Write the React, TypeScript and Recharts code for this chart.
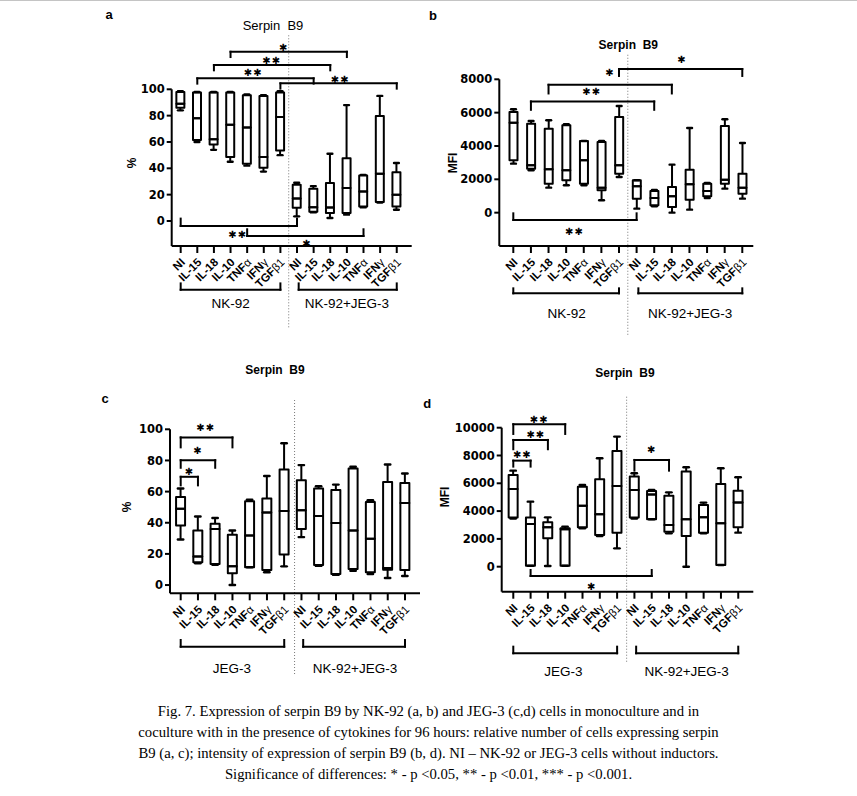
import React from 'react';
import { ComposedChart, Bar, XAxis, YAxis, ReferenceLine, ReferenceDot } from 'recharts';

// ---------- categories / ticks ----------
const categories = ['NI', 'IL-15', 'IL-18', 'IL-10', 'TNFα', 'IFNγ', 'TGFβ1'];
const xPositions = [1, 2, 3, 4, 5, 6, 7, 8, 9, 10, 11, 12, 13, 14];
const pctTicks = [0, 20, 40, 60, 80, 100];
const mfiTicksB = [0, 2000, 4000, 6000, 8000];
const mfiTicksD = [0, 2000, 4000, 6000, 8000, 10000];

// ---------- panel a (% NK-92) ----------
const aMin = [84, 60, 54, 45, 42, 37.5, 50, 3.5, 6.5, 2.3, 4.8, 10.3, 14, 8.5];
const aQ1 = [86, 61.5, 58, 48.5, 43.5, 40.5, 53.5, 10, 7, 6, 6, 11, 14.4, 11];
const aMed = [89, 78, 62, 73, 71, 48.5, 79, 17, 10.5, 10.3, 25, 22.4, 35.8, 20];
const aQ3 = [98, 97.5, 97.5, 97.5, 95.5, 95, 97.5, 27.5, 24.5, 28.8, 47.7, 34.5, 79.8, 37];
const aMax = [98.5, 98, 98, 98, 96, 95.5, 98.5, 29, 26.5, 51, 88, 35, 95, 44];

// ---------- panel b (MFI NK-92) ----------
const bMin = [2940, 2540, 1500, 1640, 1640, 740, 2140, 240, 380, 0, 180, 880, 1440, 840];
const bQ1 = [3140, 2640, 1740, 1940, 1740, 1340, 2340, 840, 440, 340, 780, 980, 1740, 1140];
const bMed = [5400, 2840, 2600, 2540, 3140, 1500, 2840, 1580, 880, 980, 1700, 1300, 1980, 1500];
const bQ3 = [6040, 5340, 5040, 5240, 4300, 4240, 5740, 1940, 1300, 1540, 2580, 1740, 5200, 2340];
const bMax = [6200, 5500, 5540, 5300, 4300, 4300, 6400, 1940, 1360, 2880, 5080, 1780, 5600, 4180];

// ---------- panel c (% JEG-3) ----------
const cMin = [29.2, 14, 13, 0, 11.4, 8.2, 12, 30.8, 12.3, 6.5, 9.2, 7.1, 4.5, 5.8];
const cQ1 = [38.3, 14.6, 13.5, 7.5, 11.4, 9.7, 19.6, 36, 12.9, 7.1, 10.3, 8.2, 9.9, 9.7];
const cMed = [49, 18.3, 36, 12, 31.8, 46.5, 47.5, 48, 44.3, 39.8, 35, 29.7, 11, 52.7];
const cQ3 = [56.6, 35, 39.4, 32.3, 53.8, 55.5, 74.2, 67.3, 62, 61, 74.8, 53.3, 66.2, 65.6];
const cMax = [62, 44, 43, 35, 54.8, 70, 91, 77, 63.4, 64.5, 76, 54.4, 77.4, 71.6];

// ---------- panel d (MFI JEG-3) ----------
const dMin = [3460, 70, 50, 70, 2760, 2210, 1320, 3460, 3410, 2400, 0, 2400, 120, 2450];
const dQ1 = [3530, 70, 2040, 70, 2830, 2280, 2450, 3530, 3410, 2520, 2210, 2450, 120, 2830];
const dMed = [5590, 3070, 2830, 2700, 4390, 3770, 5810, 5520, 5200, 3000, 3410, 3550, 3120, 4610];
const dQ3 = [6600, 3530, 3190, 2760, 5760, 6290, 8330, 6480, 5450, 5110, 6840, 4440, 5950, 5470];
const dMax = [6910, 4680, 3550, 2880, 5880, 7800, 9360, 6720, 5520, 5350, 7150, 4610, 7080, 6430];

// ---------- significance brackets (x1, x2, level, end level) ----------
const aBrackets = [
  [4, 11, 128.5, 124.5], [3, 10, 118.4, 114.4], [2, 9, 108.3, 104.3], [7, 14, 104.5, 100.5],
  [1, 8, -3.8, 1.8], [5, 12, -11.4, -6.3],
];
const aStars: [number, number, string][] = [
  [7.2, 131.8, '*'], [6.48, 121.6, '**'], [5.36, 112.6, '**'], [10.6, 107.7, '**'], [4.43, -10.1, '**'], [8.6, -17, '*'],
];
const bBrackets = [
  [7, 14, 8613, 8200], [3, 10, 7670, 7150], [2, 9, 6670, 6170], [1, 8, -440, -40],
];
const bStars: [number, number, string][] = [
  [6.49, 8408, '*'], [10.57, 9170, '*'], [5.45, 7267, '**'], [4.47, -1141, '**'],
];
const cBrackets = [
  [1, 4, 94.8, 88.4], [1, 3, 80.2, 75.3], [1, 2, 69.5, 64],
];
const cStars: [number, number, string][] = [
  [2.45, 101, '**'], [2, 86.7, '*'], [1.5, 73, '*'],
];
const dBrackets = [
  [1, 4, 10250, 9550], [1, 3, 9120, 8450], [1, 2, 7630, 7200], [8, 10, 7680, 6910], [2, 9, -670, -240],
];
const dStars: [number, number, string][] = [
  [2.5, 10600, '**'], [2.3, 9550, '**'], [1.52, 8040, '**'], [9, 8400, '*'], [5.53, -1440, '*'],
];

// ---------- group labels ----------
const groupsTop = ['NK-92', 'NK-92+JEG-3'];
const groupsBottom = ['JEG-3', 'NK-92+JEG-3'];

const SANS = '"Liberation Sans", Arial, Helvetica, sans-serif';
const WIDE = '"DejaVu Sans", "Liberation Sans", sans-serif';
const STAR_FONT = '"DejaVu Sans", sans-serif';

function buildRows(min: number[], q1: number[], med: number[], q3: number[], max: number[]) {
  return xPositions.map((x, i) => ({
    x,
    base: min[i],
    wLow: q1[i] - min[i],
    boxLow: med[i] - q1[i],
    boxHigh: q3[i] - med[i],
    wHigh: max[i] - q3[i],
  }));
}

const EmptyShape = () => <g />;

const WhiskerLow = (p: any) => {
  const { x, y, width, height } = p;
  const cx = x + width / 2;
  const top = Math.min(y, y + height);
  const bot = Math.max(y, y + height);
  const cw = width * 0.6;
  return (
    <g>
      <line x1={cx} x2={cx} y1={top} y2={bot} stroke="#000" strokeWidth={2} />
      <line x1={cx - cw / 2} x2={cx + cw / 2} y1={bot} y2={bot} stroke="#000" strokeWidth={2.4} strokeLinecap="round" />
    </g>
  );
};

const WhiskerHigh = (p: any) => {
  const { x, y, width, height } = p;
  const cx = x + width / 2;
  const top = Math.min(y, y + height);
  const bot = Math.max(y, y + height);
  const cw = width * 0.6;
  return (
    <g>
      <line x1={cx} x2={cx} y1={top} y2={bot} stroke="#000" strokeWidth={2} />
      <line x1={cx - cw / 2} x2={cx + cw / 2} y1={top} y2={top} stroke="#000" strokeWidth={2.4} strokeLinecap="round" />
    </g>
  );
};

const BoxShape = (p: any) => {
  const { x, y, width, height } = p;
  const top = Math.min(y, y + height);
  const h = Math.abs(height);
  return <rect x={x} y={top} width={width} height={h} fill="none" stroke="#000" strokeWidth={2} strokeLinejoin="round" />;
};

function CategoryTick(props: any) {
  const { x, y, payload } = props;
  const i = xPositions.indexOf(payload.value);
  const name = categories[(i < 0 ? 0 : i) % categories.length];
  const g = name.search(/[αβγ]/);
  const head = g < 0 ? name : name.slice(0, g);
  const tail = g < 0 ? '' : name.slice(g);
  const ax = x + 5;
  const ay = y + 8;
  return (
    <text x={ax} y={ay} transform={`rotate(-45 ${ax} ${ay})`} textAnchor="end" fontSize={11.5} fontWeight="bold" fontFamily={SANS} fill="#000">
      {head}
      {tail ? <tspan fontWeight="normal">{tail}</tspan> : null}
    </text>
  );
}

type Cfg = {
  left: number; top: number; width: number; height: number;
  mTop: number; mRight: number; yW: number; xH: number;
  xDomain: [number, number]; yDomain: [number, number]; yTicks: number[];
  barSize: number;
  sepX: number; sepTop: number; sepBottom: number;
  gTop: number; gBottom: number; gLabelY: number; gLabelX: [number, number];
  gRanges: [number, number][];
  groups: string[];
};

const axisStyle = { stroke: '#000', strokeWidth: 2 };

function Panel({ cfg, data, brackets, stars }: { cfg: Cfg; data: any[]; brackets: number[][]; stars: [number, number, string][] }) {
  const refs: any[] = [];
  refs.push(
    <ReferenceLine key="sep" segment={[{ x: cfg.sepX, y: cfg.sepTop }, { x: cfg.sepX, y: cfg.sepBottom }]} stroke="#777" strokeWidth={1} strokeDasharray="1 2" ifOverflow="visible" />
  );
  brackets.forEach((b, i) => {
    const [x1, x2, lv, end] = b;
    refs.push(
      <ReferenceLine key={`bh${i}`} segment={[{ x: x1, y: lv }, { x: x2, y: lv }]} stroke="#000" strokeWidth={2} strokeLinecap="square" ifOverflow="visible" />,
      <ReferenceLine key={`bl${i}`} segment={[{ x: x1, y: lv }, { x: x1, y: end }]} stroke="#000" strokeWidth={2} strokeLinecap="square" ifOverflow="visible" />,
      <ReferenceLine key={`br${i}`} segment={[{ x: x2, y: lv }, { x: x2, y: end }]} stroke="#000" strokeWidth={2} strokeLinecap="square" ifOverflow="visible" />
    );
  });
  stars.forEach((s, i) => {
    refs.push(
      <ReferenceDot key={`s${i}`} x={s[0]} y={s[1]} r={0} fill="none" stroke="none" ifOverflow="visible"
        label={{ value: s[2] === '*' ? '✱' : '✱✱', position: 'center', fontSize: 10, fill: '#000', fontFamily: STAR_FONT, letterSpacing: 1 }} />
    );
  });
  cfg.gRanges.forEach((r, i) => {
    refs.push(
      <ReferenceLine key={`gh${i}`} segment={[{ x: r[0], y: cfg.gBottom }, { x: r[1], y: cfg.gBottom }]} stroke="#000" strokeWidth={2} strokeLinecap="square" ifOverflow="visible" />,
      <ReferenceLine key={`gl${i}`} segment={[{ x: r[0], y: cfg.gTop }, { x: r[0], y: cfg.gBottom }]} stroke="#000" strokeWidth={2} strokeLinecap="square" ifOverflow="visible" />,
      <ReferenceLine key={`gr${i}`} segment={[{ x: r[1], y: cfg.gTop }, { x: r[1], y: cfg.gBottom }]} stroke="#000" strokeWidth={2} strokeLinecap="square" ifOverflow="visible" />,
      <ReferenceDot key={`gt${i}`} x={cfg.gLabelX[i]} y={cfg.gLabelY} r={0} fill="none" stroke="none" ifOverflow="visible"
        label={{ value: cfg.groups[i], position: 'center', fontSize: 13.5, fill: '#000', fontFamily: SANS }} />
    );
  });

  return (
    <div style={{ position: 'absolute', left: cfg.left, top: cfg.top }}>
      <ComposedChart width={cfg.width} height={cfg.height} data={data} margin={{ top: cfg.mTop, right: cfg.mRight, bottom: 0, left: 0 }}>
        <XAxis type="number" dataKey="x" domain={cfg.xDomain} allowDataOverflow ticks={xPositions} interval={0}
          tick={(p: any) => <CategoryTick {...p} />} tickSize={7} height={cfg.xH} axisLine={axisStyle} tickLine={axisStyle} />
        <YAxis type="number" domain={cfg.yDomain} allowDataOverflow ticks={cfg.yTicks} interval={0} width={cfg.yW} tickSize={5}
          tick={{ fontSize: 11.5, fontWeight: 'bold', fill: '#000', fontFamily: WIDE }} axisLine={axisStyle} tickLine={axisStyle} />
        <Bar dataKey="base" stackId="box" barSize={cfg.barSize} fill="none" shape={EmptyShape} isAnimationActive={false} />
        <Bar dataKey="wLow" stackId="box" barSize={cfg.barSize} fill="none" shape={WhiskerLow} isAnimationActive={false} />
        <Bar dataKey="boxLow" stackId="box" barSize={cfg.barSize} fill="none" shape={BoxShape} isAnimationActive={false} />
        <Bar dataKey="boxHigh" stackId="box" barSize={cfg.barSize} fill="none" shape={BoxShape} isAnimationActive={false} />
        <Bar dataKey="wHigh" stackId="box" barSize={cfg.barSize} fill="none" shape={WhiskerHigh} isAnimationActive={false} />
        {refs}
      </ComposedChart>
    </div>
  );
}

const cfgA: Cfg = {
  left: 100, top: 0, width: 330, height: 340, mTop: 89.3, mRight: 18.3, yW: 71.7, xH: 94,
  xDomain: [0.46, 14.9], yDomain: [-19, 100], yTicks: pctTicks, barSize: 8,
  sepX: 7.5, sepTop: 141, sepBottom: -81,
  gTop: -47.4, gBottom: -52.2, gLabelY: -62.5, gLabelX: [4, 11], gRanges: [[1, 7], [8.1, 14]], groups: groupsTop,
};
const cfgB: Cfg = {
  left: 420, top: 0, width: 345, height: 340, mTop: 79.3, mRight: 11.7, yW: 79.3, xH: 94,
  xDomain: [0.205, 14.625], yDomain: [-2000, 8000], yTicks: mfiTicksB, barSize: 8,
  sepX: 7.5, sepTop: 9472, sepBottom: -7345,
  gTop: -4540, gBottom: -4840, gLabelY: -6024, gLabelX: [4.03, 11.04], gRanges: [[1, 7], [8.1, 14]], groups: groupsTop,
};
const cfgC: Cfg = {
  left: 100, top: 360, width: 330, height: 330, mTop: 69.3, mRight: 10, yW: 70, xH: 96.7,
  xDomain: [0.38, 14.87], yDomain: [-5.3, 100], yTicks: pctTicks, barSize: 9,
  sepX: 7.6, sepTop: 118.8, sepBottom: -57.8,
  gTop: -35.3, gBottom: -39.6, gLabelY: -53.5, gLabelX: [3.96, 11.1], gRanges: [[1, 7], [8.1, 14]], groups: groupsBottom,
};
const cfgD: Cfg = {
  left: 420, top: 360, width: 345, height: 330, mTop: 67.7, mRight: 11.7, yW: 81.7, xH: 98.3,
  xDomain: [0.33, 14.87], yDomain: [-1800, 10000], yTicks: mfiTicksD, barSize: 9,
  sepX: 7.55, sepTop: 12230, sepBottom: -6856,
  gTop: -5755, gBottom: -6230, gLabelY: -7554, gLabelX: [3.89, 11.02], gRanges: [[1, 7], [8.1, 14]], groups: groupsBottom,
};

function Txt({ x, y, children, size = 12, weight = 'bold', rotate = 0 }: any) {
  return (
    <div style={{
      position: 'absolute', left: x, top: y, transform: `translate(-50%, -50%) rotate(${rotate}deg)`,
      fontFamily: SANS, fontSize: size, fontWeight: weight, color: '#000', whiteSpace: 'pre', lineHeight: 1,
    }}>{children}</div>
  );
}

export default function App() {
  return (
    <div style={{ position: 'absolute', left: 0, top: 0, width: 857, height: 796, background: '#fff', overflow: 'hidden' }}>
      <div style={{ position: 'absolute', left: 0, top: 0, width: 857, height: 1, background: '#c4c4c4' }} />
      <Panel cfg={cfgA} data={buildRows(aMin, aQ1, aMed, aQ3, aMax)} brackets={aBrackets} stars={aStars} />
      <Panel cfg={cfgB} data={buildRows(bMin, bQ1, bMed, bQ3, bMax)} brackets={bBrackets} stars={bStars} />
      <Panel cfg={cfgC} data={buildRows(cMin, cQ1, cMed, cQ3, cMax)} brackets={cBrackets} stars={cStars} />
      <Panel cfg={cfgD} data={buildRows(dMin, dQ1, dMed, dQ3, dMax)} brackets={dBrackets} stars={dStars} />

      <Txt x={109} y={14} size={13}>a</Txt>
      <Txt x={273} y={25} size={13} weight="normal">{'Serpin  B9'}</Txt>
      <Txt x={131.7} y={163.3} rotate={-90}>%</Txt>

      <Txt x={433} y={15} size={13}>b</Txt>
      <Txt x={628.3} y={45}>{'Serpin  B9'}</Txt>
      <Txt x={453.3} y={163} rotate={-90}>MFI</Txt>

      <Txt x={105} y={398} size={13}>c</Txt>
      <Txt x={275} y={370}>{'Serpin  B9'}</Txt>
      <Txt x={126.7} y={506.7} rotate={-90}>%</Txt>

      <Txt x={427.3} y={402.7} size={13}>d</Txt>
      <Txt x={625} y={372.7}>{'Serpin  B9'}</Txt>
      <Txt x={445} y={496.7} rotate={-90}>MFI</Txt>

      <div style={{
        position: 'absolute', left: 0, top: 701, width: 857, textAlign: 'center',
        fontFamily: '"Liberation Serif", "Times New Roman", serif', fontSize: 14.7, lineHeight: '21px', color: '#000',
      }}>
        <div>Fig. 7. Expression of serpin B9 by NK-92 (a, b) and JEG-3 (c,d) cells in monoculture and in</div>
        <div>coculture with in the presence of cytokines for 96 hours: relative number of cells expressing serpin</div>
        <div>B9 (a, c); intensity of expression of serpin B9 (b, d). NI – NK-92 or JEG-3 cells without inductors.</div>
        <div>Significance of differences: * - p &lt;0.05, ** - p &lt;0.01, *** - p &lt;0.001.</div>
      </div>
    </div>
  );
}
